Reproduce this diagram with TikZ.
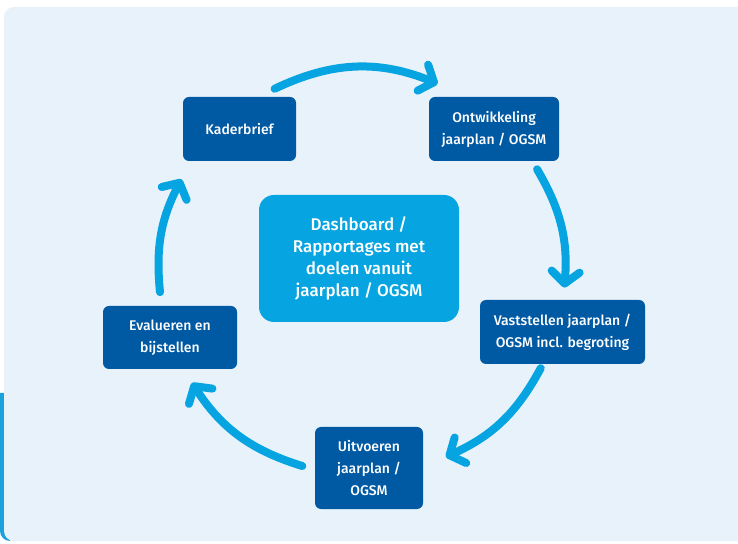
\documentclass[tikz,border=0pt]{standalone}
\usepackage{fontspec}
\setmainfont{Fira Sans}[UprightFont=* Medium]
\usetikzlibrary{arrows.meta}
\definecolor{NavyBox}{HTML}{0059A3}
\definecolor{SkyBlue}{HTML}{06A4E0}
\definecolor{PaleBack}{HTML}{E8F2FB}
\definecolor{SideBar}{HTML}{1BA1DC}
\newcommand{\Radius}{203}
\tikzset{StepBox/.style={
    inner sep=0pt,
    rounded corners=6pt,
    minimum height=64pt,
    fill=NavyBox,
    text=white,
    align=center,
    font={\fontsize{14pt}{22pt}\selectfont}
    },
    HubBox/.style={
    inner sep=0pt,
    rounded corners=15pt,
    minimum width=200pt,
    minimum height=127pt,
    fill=SkyBlue,
    text=white,
    align=center,
    font={\fontsize{17pt}{21.7pt}\selectfont}
    },
    CycleArrow/.style={
    draw=SkyBlue,
    line width=8pt,
    line cap=round,
    -{Straight Barb[length=12pt,width=28pt,line cap=round,line join=round]}
    }
}

\begin{document}
\begin{tikzpicture}[x=1pt,y=1pt]
\useasboundingbox (0,0) rectangle (738,543);
% backdrop
\fill[SideBar] (10,150) -- (0,150) [rounded corners=10pt] -- (0,2) [sharp corners] -- (10,2) -- cycle;
\fill[PaleBack, rounded corners=10pt] (4,2) rectangle (760,536);
% steps of the cycle
\node [StepBox, minimum width=113pt] (kader) at (239.5,414) {Kaderbrief};
\node [StepBox, minimum width=130pt] (ontw) at (494,414) {Ontwikkeling\\jaarplan / OGSM};
\node [StepBox, minimum width=165pt] (vast) at (562.5,211) {Vaststellen jaarplan /\\OGSM incl. begroting};
\node [StepBox, minimum width=108pt, minimum height=82pt] (uitv) at (369,75) {Uitvoeren\\jaarplan /\\OGSM};
\node [StepBox, minimum width=134pt, minimum height=63pt] (eval) at (170,205.5) {Evalueren en\\bijstellen};
\node [HubBox] (dash) at (359,284.5) {Dashboard /\\Rapportages met\\doelen vanuit\\jaarplan / OGSM};
% arrows round the cycle
\coordinate (O) at (362,271);
\foreach \n/\from/\to/\bend in {1/115.5/68.1/23.7, 2/30.4/-4.4/17.4, 3/-28.3/-65.6/18.7, 4/252.9/213.1/19.9, 5/185.7/152.8/16.5} {
\coordinate (s\n) at ([shift={(\from:\Radius)}]O);
\coordinate (e\n) at ([shift={(\to:\Radius)}]O);
\draw [CycleArrow] (s\n) to[bend left=\bend] (e\n);
}
\end{tikzpicture}
\end{document}
